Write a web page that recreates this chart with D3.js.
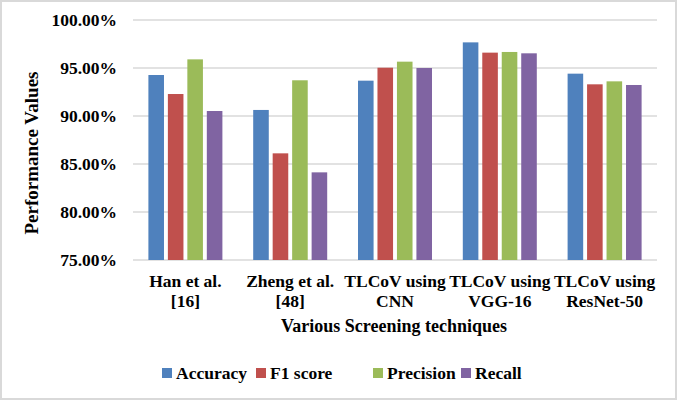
<!DOCTYPE html>
<html><head><meta charset="utf-8">
<script src="https://cdn.jsdelivr.net/npm/d3@7/dist/d3.min.js"></script>
<style>
html,body{margin:0;padding:0;background:#fff;}
svg{display:block;font-family:"Liberation Serif","Times New Roman",serif;font-weight:bold;}
</style></head>
<body><svg id="chart" width="677" height="400"></svg>
<script>
const categories = [["Han et al.","[16]"],["Zheng et al.","[48]"],["TLCoV using","CNN"],["TLCoV using","VGG-16"],["TLCoV using","ResNet-50"]];
const seriesNames = ["Accuracy","F1 score","Precision","Recall"];
const seriesColors = ["#4f81bd","#c0504d","#9bbb59","#8064a2"];
const accuracy  = [94.27, 90.63, 93.68, 97.67, 94.41];
const f1score   = [92.29, 86.11, 95.03, 96.60, 93.30];
const precision = [95.90, 93.72, 95.66, 96.67, 93.61];
const recall    = [90.52, 84.13, 95.00, 96.53, 93.23];
const yTicks = [75, 80, 85, 90, 95, 100];

const seriesValues = [accuracy, f1score, precision, recall];
const svg = d3.select("#chart");
const W = 677, H = 400;
const m = {left:133, right:20, top:20, bottom:140};
const pw = W - m.left - m.right, ph = H - m.top - m.bottom;

svg.append("rect").attr("x",1).attr("y",1).attr("width",W-2).attr("height",H-2)
  .attr("fill","#fff").attr("stroke","#d9d9d9").attr("stroke-width",2);

const x0 = d3.scaleBand().domain(d3.range(categories.length)).range([m.left, m.left+pw]).paddingInner(0).paddingOuter(0);
const x1 = d3.scaleBand().domain(d3.range(seriesNames.length)).range([0, 74]).paddingInner(0.2);
const y = d3.scaleLinear().domain([75,100]).range([m.top+ph, m.top]);

// gridlines
svg.append("g").selectAll("line").data(yTicks).join("line")
  .attr("x1", m.left).attr("x2", m.left+pw)
  .attr("y1", d=>y(d)).attr("y2", d=>y(d))
  .attr("stroke", "#d9d9d9").attr("stroke-width", 1.3);

// y tick labels
const yAxis = d3.axisLeft(y).tickValues(yTicks).tickFormat(d=>d.toFixed(2)+"%").tickSize(0).tickPadding(16);
const ya = svg.append("g").attr("transform",`translate(${m.left},0)`).call(yAxis);
ya.select(".domain").remove();
ya.selectAll("text").attr("font-size",17.5).attr("font-family","Liberation Serif").attr("font-weight","bold").attr("fill","#000");

// bars
const groups = svg.append("g").selectAll("g").data(categories).join("g")
  .attr("transform",(d,i)=>`translate(${x0(i)+x0.bandwidth()/2-37},0)`);
groups.selectAll("rect").data((d,i)=>seriesValues.map((s,j)=>({j, v:s[i]}))).join("rect")
  .attr("x", d=>x1(d.j)).attr("width", x1.bandwidth())
  .attr("y", d=>y(d.v)).attr("height", d=>y(75)-y(d.v))
  .attr("fill", d=>seriesColors[d.j]);

// x labels
const xl = svg.append("g").selectAll("text").data(categories).join("text")
  .attr("x",(d,i)=>x0(i)+x0.bandwidth()/2).attr("y",287)
  .attr("text-anchor","middle").attr("font-size",17.5).attr("fill","#000");
xl.selectAll("tspan").data(d=>d).join("tspan")
  .attr("x", function(){return this.parentNode.getAttribute("x");})
  .attr("dy",(d,i)=>i===0?0:20).text(d=>d);

// axis titles
svg.append("text").attr("x", 394).attr("y", 332).attr("text-anchor","middle")
  .attr("font-size",18).attr("fill","#000").text("Various Screening techniques");
svg.append("text").attr("transform","translate(38,153) rotate(-90)").attr("text-anchor","middle")
  .attr("font-size",19).attr("fill","#000").text("Performance Values");

// legend
const legX = [162, 256, 373, 461];
const lg = svg.append("g").selectAll("g").data(seriesNames).join("g")
  .attr("transform",(d,i)=>`translate(${legX[i]},373)`);
lg.append("rect").attr("x",0).attr("y",-5).attr("width",10).attr("height",10).attr("fill",(d,i)=>seriesColors[i]);
lg.append("text").attr("x",14).attr("y",6).attr("font-size",17.5).attr("fill","#000").text(d=>d);
</script></body></html>
